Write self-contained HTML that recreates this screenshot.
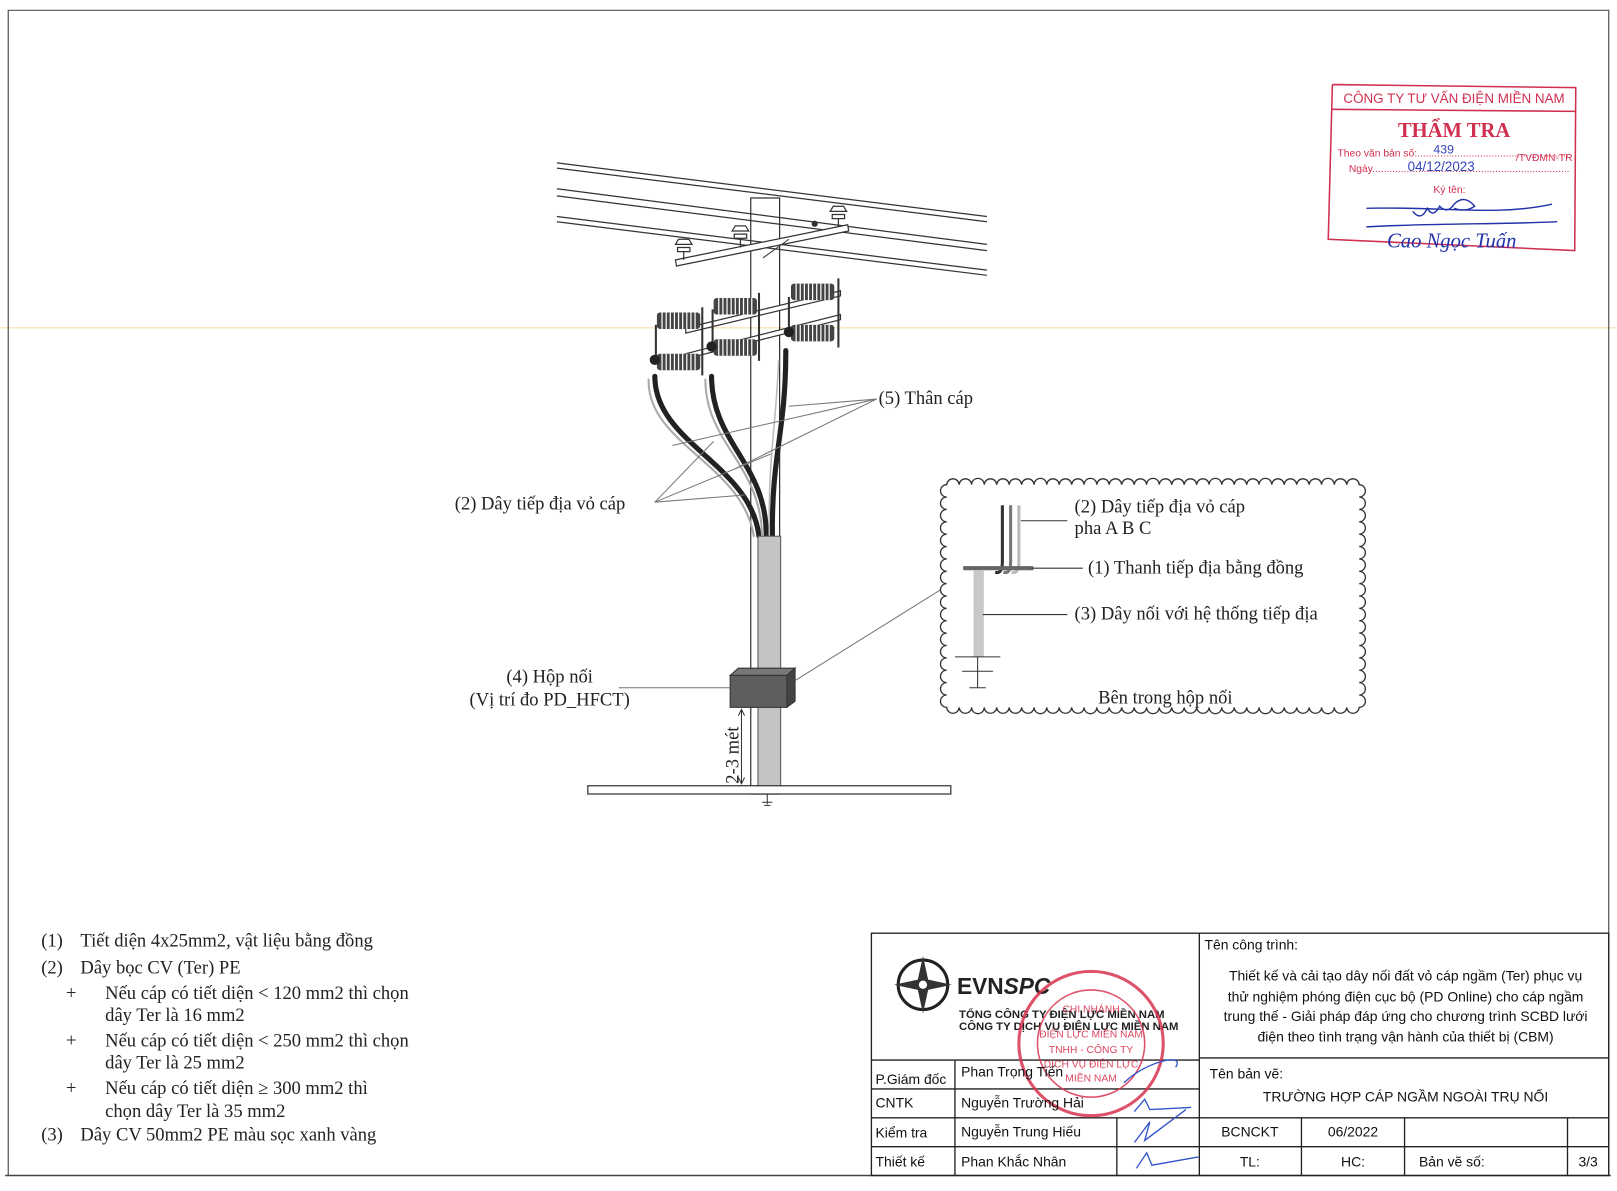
<!DOCTYPE html>
<html><head><meta charset="utf-8"><style>
html,body{margin:0;padding:0;background:#fff;}
svg{display:block;}
.s{font-family:"Liberation Serif",serif;font-size:18px;fill:#222;}
.a{font-family:"Liberation Sans",sans-serif;font-size:13.5px;fill:#111;}
</style></head><body>
<svg width="1617" height="1191" viewBox="0 0 1568 1155" preserveAspectRatio="none" xmlns="http://www.w3.org/2000/svg">
<rect width="1568" height="1155" fill="#fff"/>
<line x1="0" y1="318" x2="1568" y2="318" stroke="#f3dca0" stroke-width="1"/>
<polyline points="8,1140 8,10 1560,10 1560,1140" fill="none" stroke="#555" stroke-width="1.2"/>
<line x1="5" y1="1140" x2="1562" y2="1140" stroke="#444" stroke-width="1.5"/>

<g stroke="#333" stroke-width="1.2" fill="none">
<line x1="540" y1="158" x2="957" y2="210"/><line x1="540" y1="163" x2="957" y2="215"/>
<line x1="540" y1="183" x2="957" y2="237"/><line x1="540" y1="190" x2="957" y2="243"/>
<line x1="540" y1="210" x2="957" y2="262"/><line x1="540" y1="215" x2="957" y2="267"/>
</g>
<rect x="728" y="192" width="28" height="578" fill="none" stroke="#333" stroke-width="1.2"/>
<polygon points="655,252 822,218 823,224 656,258" fill="#fff" stroke="#333" stroke-width="1.2"/>
<line x1="740" y1="250" x2="765" y2="232" stroke="#333"/>
<g fill="#fff" stroke="#333" stroke-width="1.2">
<path d="M655,237 h16 l-3,-5 h-10z M657,240 h12 v4 h-12z"/><line x1="663" y1="244" x2="663" y2="252"/>
<path d="M710,224 h16 l-3,-5 h-10z M712,227 h12 v4 h-12z"/><line x1="718" y1="231" x2="718" y2="240"/>
<path d="M805,205 h16 l-3,-5 h-10z M807,208 h12 v4 h-12z"/><line x1="813" y1="212" x2="813" y2="220"/>
</g>
<circle cx="790" cy="217" r="3" fill="#333"/>
<g stroke="#333" stroke-width="1.2" fill="#fff">
<polygon points="665,318 815,282 815,287 665,323"/>
<polygon points="665,343 815,305 815,310 665,348"/>
</g>
<g fill="#444">
<rect x="637" y="303" width="42" height="16" rx="3"/><rect x="637" y="343" width="42" height="16" rx="3"/>
<rect x="692" y="289" width="42" height="16" rx="3"/><rect x="692" y="329" width="42" height="16" rx="3"/>
<rect x="767" y="275" width="42" height="16" rx="3"/><rect x="767" y="315" width="42" height="16" rx="3"/>
</g>
<g stroke="#fff" stroke-width="1.2">
<path d="M642,303v16M646,303v16M650,303v16M654,303v16M658,303v16M662,303v16M666,303v16M670,303v16M674,303v16"/>
<path d="M642,343v16M646,343v16M650,343v16M654,343v16M658,343v16M662,343v16M666,343v16M670,343v16M674,343v16"/>
<path d="M697,289v16M701,289v16M705,289v16M709,289v16M713,289v16M717,289v16M721,289v16M725,289v16M729,289v16"/>
<path d="M697,329v16M701,329v16M705,329v16M709,329v16M713,329v16M717,329v16M721,329v16M725,329v16M729,329v16"/>
<path d="M772,275v16M776,275v16M780,275v16M784,275v16M788,275v16M792,275v16M796,275v16M800,275v16M804,275v16"/>
<path d="M772,315v16M776,315v16M780,315v16M784,315v16M788,315v16M792,315v16M796,315v16M800,315v16M804,315v16"/>
</g>
<g stroke="#333" stroke-width="2" fill="none">
<line x1="681" y1="298" x2="681" y2="364"/><line x1="736" y1="284" x2="736" y2="350"/><line x1="813" y1="270" x2="813" y2="337"/>
<line x1="636" y1="315" x2="636" y2="345"/><line x1="691" y1="300" x2="691" y2="335"/><line x1="765" y1="288" x2="765" y2="322"/>
</g>
<circle cx="635" cy="349" r="5" fill="#222"/><circle cx="690" cy="336" r="5" fill="#222"/><circle cx="765" cy="322" r="5" fill="#222"/>
<g fill="none" stroke-linecap="round">
<path d="M629,368 C627,430 720,450 731,520" stroke="#aaa" stroke-width="2"/>
<path d="M635,365 C635,430 728,450 736,520" stroke="#222" stroke-width="5"/>
<path d="M684,368 C684,430 738,450 739,520" stroke="#aaa" stroke-width="2"/>
<path d="M690,365 C690,430 744,450 743,520" stroke="#222" stroke-width="5"/>
<path d="M762,340 C762,420 748,440 749,520" stroke="#222" stroke-width="5"/>
<path d="M755,350 C752,420 745,440 746,520" stroke="#bbb" stroke-width="1.5"/>
</g>
<rect x="735" y="520" width="22" height="245" fill="#c4c4c4" stroke="#555"/>
<polygon points="708,655 716,648 771,648 763,655" fill="#777" stroke="#333"/>
<polygon points="763,655 771,648 771,680 763,686" fill="#444" stroke="#333"/>
<rect x="708" y="655" width="55" height="31" fill="#5e5e5e" stroke="#333"/>
<rect x="570" y="762" width="352" height="8" fill="#fff" stroke="#333" stroke-width="1.2"/>
<path d="M744,770v10M739,778h10M741,781h6" stroke="#333"/>
<line x1="719" y1="688" x2="719" y2="760" stroke="#333"/>
<path d="M716,694 l3,-6 l3,6 M716,754 l3,6 l3,-6" fill="none" stroke="#333"/>
<text class="s" transform="translate(716,760) rotate(-90)">2-3 mét</text>
<g stroke="#777" stroke-width="1" fill="none">
<line x1="850" y1="387" x2="765" y2="394"/><line x1="850" y1="387" x2="652" y2="432"/><line x1="850" y1="387" x2="712" y2="455"/>
<line x1="635" y1="487" x2="692" y2="428"/><line x1="635" y1="487" x2="748" y2="440"/><line x1="635" y1="487" x2="722" y2="480"/>
<line x1="600" y1="667" x2="708" y2="667"/>
<line x1="771" y1="660" x2="912" y2="572"/>
</g>
<text class="s" x="852" y="392">(5) Thân cáp</text>
<text class="s" x="441" y="494">(2) Dây tiếp địa vỏ cáp</text>
<text class="s" x="533" y="662" text-anchor="middle">(4) Hộp nối</text>
<text class="s" x="533" y="684" text-anchor="middle">(Vị trí đo PD_HFCT)</text>
<!-- cloud (path filled by script at end of body; fallback rounded rect) -->
<rect x="918" y="470" width="400" height="216" rx="16" fill="#fff" stroke="#333" stroke-width="1.3"/>
<path id="cloud" d="" fill="#fff" stroke="#333" stroke-width="1.3"/>
<g fill="none">
<path d="M972,490 V545 q0,12 -7,10" stroke="#333" stroke-width="3"/>
<path d="M980,490 V545 q0,12 -7,10" stroke="#777" stroke-width="3"/>
<path d="M988,490 V545 q0,12 -7,10" stroke="#bbb" stroke-width="3"/>
</g>
<rect x="934" y="549" width="68" height="4" fill="#666"/>
<rect x="944" y="553" width="10" height="84" fill="#c8c8c8"/>
<g stroke="#333">
<line x1="926" y1="637" x2="970" y2="637"/><line x1="933" y1="651" x2="963" y2="651"/>
<line x1="948" y1="637" x2="948" y2="667"/><line x1="940" y1="667" x2="956" y2="667"/>
<line x1="990" y1="505" x2="1035" y2="505"/><line x1="1000" y1="551" x2="1050" y2="551"/><line x1="953" y1="596" x2="1035" y2="596"/>
</g>
<text class="s" x="1042" y="497">(2) Dây tiếp địa vỏ cáp</text>
<text class="s" x="1042" y="518">pha A B C</text>
<text class="s" x="1055" y="556">(1) Thanh tiếp địa bằng đồng</text>
<text class="s" x="1042" y="601">(3) Dây nối với hệ thống tiếp địa</text>
<text class="s" x="1130" y="682" text-anchor="middle">Bên trong hộp nối</text>

<g class="s">
<text x="40" y="918">(1)</text><text x="78" y="918">Tiết diện 4x25mm2, vật liệu bằng đồng</text>
<text x="40" y="944">(2)</text><text x="78" y="944">Dây bọc CV (Ter) PE</text>
<text x="64" y="969">+</text><text x="102" y="969">Nếu cáp có tiết diện &lt; 120 mm2 thì chọn</text>
<text x="102" y="990">dây Ter là 16 mm2</text>
<text x="64" y="1015">+</text><text x="102" y="1015">Nếu cáp có tiết diện &lt; 250 mm2 thì chọn</text>
<text x="102" y="1036">dây Ter là 25 mm2</text>
<text x="64" y="1061">+</text><text x="102" y="1061">Nếu cáp có tiết diện ≥ 300 mm2 thì</text>
<text x="102" y="1083">chọn dây Ter là 35 mm2</text>
<text x="40" y="1106">(3)</text><text x="78" y="1106">Dây CV 50mm2 PE màu sọc xanh vàng</text>
</g>

<g stroke="#222" stroke-width="1.3" fill="none">
<rect x="845" y="905" width="715" height="235"/>
<line x1="1163" y1="905" x2="1163" y2="1140"/>
<line x1="845" y1="1028" x2="1163" y2="1028"/>
<line x1="845" y1="1056" x2="1163" y2="1056"/>
<line x1="845" y1="1084" x2="1560" y2="1084"/>
<line x1="845" y1="1112" x2="1560" y2="1112"/>
<line x1="1163" y1="1026" x2="1560" y2="1026"/>
<line x1="926" y1="1028" x2="926" y2="1140"/>
<line x1="1083" y1="1084" x2="1083" y2="1140"/>
<line x1="1262" y1="1084" x2="1262" y2="1140"/>
<line x1="1362" y1="1084" x2="1362" y2="1140"/>
<line x1="1520" y1="1084" x2="1520" y2="1140"/>
</g>
<circle cx="895" cy="955" r="24" fill="none" stroke="#222" stroke-width="3"/>
<path d="M895,927 L900,950 L923,955 L900,960 L895,983 L890,960 L867,955 L890,950Z" fill="#333"/>
<circle cx="895" cy="955" r="4" fill="#fff"/>
<text x="928" y="964" font-family="Liberation Sans,sans-serif" font-weight="bold" font-size="22" fill="#222">EVN<tspan font-style="italic">SPC</tspan></text>
<text x="930" y="987" font-family="Liberation Sans,sans-serif" font-weight="bold" font-size="11" fill="#222">TỔNG CÔNG TY ĐIỆN LỰC MIỀN NAM</text>
<text x="930" y="999" font-family="Liberation Sans,sans-serif" font-weight="bold" font-size="11" fill="#222">CÔNG TY DỊCH VỤ ĐIỆN LỰC MIỀN NAM</text>
<g stroke="#d8334f" fill="none" opacity="0.85">
<circle cx="1058" cy="1012" r="70" stroke-width="3"/>
<circle cx="1058" cy="1012" r="52" stroke-width="1.5"/>
</g>
<g font-family="Liberation Sans,sans-serif" font-size="10" fill="#d8334f" text-anchor="middle" opacity="0.9">
<text x="1058" y="982">CHI NHÁNH</text><text x="1058" y="1006">ĐIỆN LỰC MIỀN NAM</text>
<text x="1058" y="1021">TNHH - CÔNG TY</text><text x="1058" y="1035">DỊCH VỤ ĐIỆN LỰC</text><text x="1058" y="1049">MIỀN NAM</text>
</g>
<g class="a">
<text x="849" y="1051">P.Giám đốc</text><text x="932" y="1044">Phan Trọng Tiến</text>
<text x="849" y="1074">CNTK</text><text x="932" y="1074">Nguyễn Trường Hải</text>
<text x="849" y="1103">Kiểm tra</text><text x="932" y="1102">Nguyễn Trung Hiếu</text>
<text x="849" y="1131">Thiết kế</text><text x="932" y="1131">Phan Khắc Nhân</text>
<text x="1168" y="921">Tên công trình:</text>
<g text-anchor="middle">
<text x="1363" y="951">Thiết kế và cải tạo dây nối đất vỏ cáp ngầm (Ter) phục vụ</text>
<text x="1363" y="971">thử nghiệm phóng điện cục bộ (PD Online) cho cáp ngầm</text>
<text x="1363" y="990">trung thế - Giải pháp đáp ứng cho chương trình SCBD lưới</text>
<text x="1363" y="1010">điện theo tình trạng vận hành của thiết bị (CBM)</text>
<text x="1363" y="1068">TRƯỜNG HỢP CÁP NGẦM NGOÀI TRỤ NỐI</text>
<text x="1212" y="1102">BCNCKT</text><text x="1312" y="1102">06/2022</text>
<text x="1212" y="1131">TL:</text><text x="1312" y="1131">HC:</text><text x="1540" y="1131">3/3</text>
</g>
<text x="1173" y="1046">Tên bản vẽ:</text>
<text x="1376" y="1131">Bản vẽ số:</text>
</g>
<g stroke="#3355cc" stroke-width="1.3" fill="none">
<path d="M1090,1050 C1110,1030 1150,1020 1140,1035"/>
<path d="M1100,1078 l10,-12 l5,10 l40,-2"/>
<path d="M1100,1108 l15,-20 l-5,18 l40,-30"/>
<path d="M1102,1133 l10,-15 l5,12 l45,-8"/>
</g>

<g stroke="#d03050" fill="none" stroke-width="1.5">
<polyline points="1292,82 1528,85 1527,243 1288,232 1292,82"/>
<line x1="1292" y1="106" x2="1528" y2="108"/>
</g>
<text x="1410" y="100" text-anchor="middle" font-family="Liberation Sans,sans-serif" font-size="13" fill="#d03050">CÔNG TY TƯ VẤN ĐIỆN MIỀN NAM</text>
<text x="1410" y="133" text-anchor="middle" font-family="Liberation Serif,serif" font-weight="bold" font-size="20" fill="#d03050">THẨM TRA</text>
<text x="1297" y="152" font-family="Liberation Sans,sans-serif" font-size="10" fill="#d03050">Theo văn bản số:.....................................................</text>
<text x="1470" y="156" font-family="Liberation Sans,sans-serif" font-size="10" fill="#d03050">/TVĐMN-TR</text>
<text x="1308" y="167" font-family="Liberation Sans,sans-serif" font-size="10" fill="#d03050">Ngày.....................................................................</text>
<text x="1390" y="187" font-family="Liberation Sans,sans-serif" font-size="10" fill="#d03050">Ký tên:</text>
<text x="1390" y="149" font-family="Liberation Sans,sans-serif" font-size="12" fill="#3344bb">439</text>
<text x="1365" y="166" font-family="Liberation Sans,sans-serif" font-size="13" fill="#3344bb">04/12/2023</text>
<g stroke="#2233aa" fill="none" stroke-width="1.4">
<path d="M1325,202 C1400,200 1450,210 1505,198"/>
<path d="M1370,205 q8,10 14,-3 q6,10 12,-2 q8,8 14,-2 q10,-10 20,2 q-8,6 -20,2"/>
<path d="M1325,220 C1400,216 1450,218 1510,215"/>
</g>
<text x="1345" y="240" font-family="Liberation Serif,serif" font-style="italic" font-size="20" fill="#2233aa">Cao Ngọc Tuấn</text>
</svg>
<script>
(function(){
var x0=918,x1=1318,y0=470,y1=686,s=12,d="M"+x0+","+y0;
var n=Math.round((x1-x0)/s),st=(x1-x0)/n,x=x0,i;
for(i=0;i<n;i++){x+=st;d+=" A"+(st/2)+","+(st/2)+" 0 0 1 "+x.toFixed(1)+","+y0;}
var m=Math.round((y1-y0)/s),sv=(y1-y0)/m,y=y0;
for(i=0;i<m;i++){y+=sv;d+=" A"+(sv/2)+","+(sv/2)+" 0 0 1 "+x1+","+y.toFixed(1);}
x=x1;for(i=0;i<n;i++){x-=st;d+=" A"+(st/2)+","+(st/2)+" 0 0 1 "+x.toFixed(1)+","+y1;}
y=y1;for(i=0;i<m;i++){y-=sv;d+=" A"+(sv/2)+","+(sv/2)+" 0 0 1 "+x0+","+y.toFixed(1);}
document.getElementById("cloud").setAttribute("d",d+"Z");
})();
</script>
</body></html>
